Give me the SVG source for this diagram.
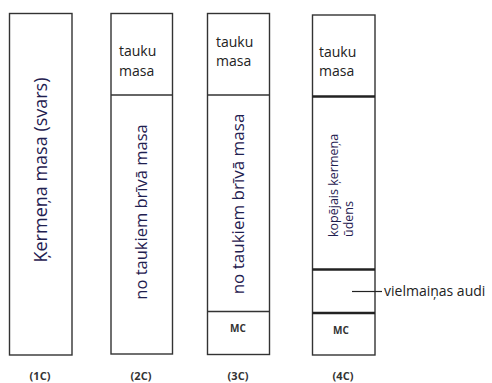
<svg xmlns="http://www.w3.org/2000/svg" width="492" height="383" viewBox="0 0 492 383">
<style>
.box{fill:#fff;stroke:#333;stroke-width:1.4}
.div{stroke:#333;stroke-width:1.4}
.thick{stroke:#222;stroke-width:2.6}
.t{font-family:"Open Sans","Liberation Sans",sans-serif;font-size:14px;fill:#222}
.r{font-family:"Open Sans","Liberation Sans",sans-serif;fill:#1f2050}
.mc{font-family:"Open Sans","Liberation Sans",sans-serif;font-size:10px;font-weight:bold;fill:#333;text-anchor:middle}
.lbl{font-family:"Open Sans","Liberation Sans",sans-serif;font-size:11px;font-weight:bold;fill:#333;text-anchor:middle}
</style>
<rect width="492" height="383" fill="#fff"/>
<g id="c1">
<rect class="box" x="9.5" y="13.5" width="62.5" height="341.5"/>
<text class="r" font-size="18" text-anchor="middle" transform="translate(46.5,170) rotate(-90)">Ķermeņa masa (svars)</text>
<text class="lbl" x="40" y="380">(1C)</text>
</g>
<g id="c2">
<rect class="box" x="111" y="13.5" width="61.5" height="340.5"/>
<line class="div" x1="111" y1="95" x2="172.5" y2="95"/>
<text class="t" x="119" y="56">tauku</text>
<text class="t" x="119" y="76">masa</text>
<text class="r" font-size="16.5" text-anchor="middle" transform="translate(146.5,212) rotate(-90)">no taukiem brīvā masa</text>
<text class="lbl" x="141" y="380">(2C)</text>
</g>
<g id="c3">
<rect class="box" x="207.5" y="13.5" width="62" height="341"/>
<line class="div" x1="207.5" y1="95" x2="269.5" y2="95"/>
<line class="div" x1="207.5" y1="311.5" x2="269.5" y2="311.5"/>
<text class="t" x="216" y="47">tauku</text>
<text class="t" x="216" y="66">masa</text>
<text class="r" font-size="17" text-anchor="middle" transform="translate(244,204) rotate(-90)">no taukiem brīvā masa</text>
<text class="mc" x="238" y="332">MC</text>
<text class="lbl" x="238" y="380">(3C)</text>
</g>
<g id="c4">
<rect class="box" x="312.5" y="15" width="62.5" height="340"/>
<line class="thick" x1="312.5" y1="96.5" x2="375" y2="96.5"/>
<line class="thick" x1="312.5" y1="269.5" x2="375" y2="269.5"/>
<line class="thick" x1="312.5" y1="313" x2="375" y2="313"/>
<text class="t" x="319" y="57">tauku</text>
<text class="t" x="319" y="76">masa</text>
<text class="r" font-size="12.5" transform="rotate(-90 338 237)" x="338" y="237">kopējais ķermeņa</text>
<text class="r" font-size="12.5" transform="rotate(-90 353 237)" x="353" y="237">ūdens</text>
<text class="mc" x="341" y="334">MC</text>
<text class="lbl" x="343" y="380">(4C)</text>
</g>
<g id="connectors">
<line x1="352" y1="291.5" x2="382" y2="291.5" stroke="#222" stroke-width="1.2"/>
</g>
<text class="t" font-size="13" x="384" y="296" fill="#1f2050">vielmaiņas audi</text>
</svg>
